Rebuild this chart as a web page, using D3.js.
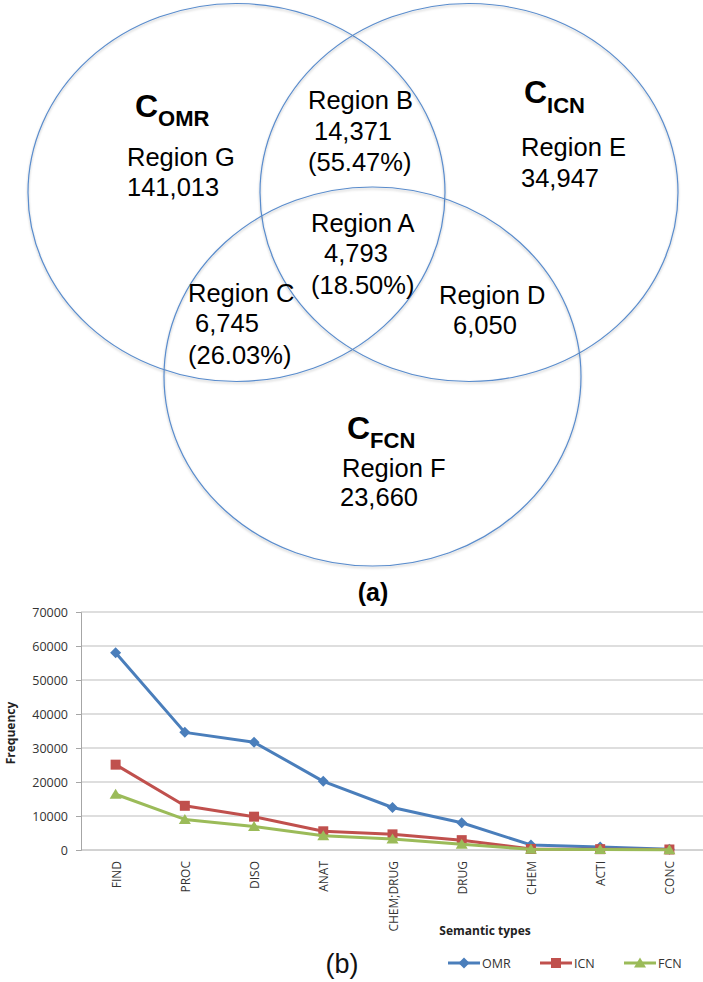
<!DOCTYPE html>
<html>
<head>
<meta charset="utf-8">
<script src="https://cdn.jsdelivr.net/npm/d3@7"></script>
<style>
  html, body { margin: 0; padding: 0; background: #fff; }
  svg { display: block; }
</style>
</head>
<body>
<svg id="chart" width="703" height="982"></svg>
<script>
// ---------- DATA ----------
// Venn diagram (a)
const sets = ["OMR", "ICN", "FCN"];
const regionNames = ["Region A", "Region B", "Region C", "Region D", "Region E", "Region F", "Region G"];
const regionCounts = ["4,793", "14,371", "6,745", "6,050", "34,947", "23,660", "141,013"];
const regionPercents = ["(18.50%)", "(55.47%)", "(26.03%)", null, null, null, null];

// Line chart (b)
const categories = ["FIND", "PROC", "DISO", "ANAT", "CHEM;DRUG", "DRUG", "CHEM", "ACTI", "CONC"];
const seriesNames = ["OMR", "ICN", "FCN"];
const omrValues = [58000, 34600, 31700, 20200, 12500, 8000, 1500, 900, 200];
const icnValues = [25100, 13000, 9800, 5500, 4600, 2900, 300, 250, 150];
const fcnValues = [16400, 9000, 6900, 4200, 3200, 1700, 200, 150, 100];
const yTicks = [0, 10000, 20000, 30000, 40000, 50000, 60000, 70000];

// ---------- LAYOUT ----------
const svg = d3.select("#chart");
const sansA = "'Liberation Sans', Arial, sans-serif";
const sansB = "'Open Sans', 'Noto Sans', sans-serif";

const defs = svg.append("defs");
const f = defs.append("filter").attr("id", "shadow").attr("x", "-10%").attr("y", "-10%").attr("width", "120%").attr("height", "120%");
f.append("feDropShadow").attr("dx", 0).attr("dy", 1.5).attr("stdDeviation", 1.2)
  .attr("flood-color", "#000").attr("flood-opacity", 0.25);

// Venn ellipses (geometry)
const vennGeom = [
  { cx: 236.5, cy: 192.5, rx: 208.5, ry: 189 },
  { cx: 469,   cy: 192.5, rx: 209,   ry: 189 },
  { cx: 372.5, cy: 376.5, rx: 208.5, ry: 189.5 }
];
svg.append("g").selectAll("ellipse").data(vennGeom).join("ellipse")
  .attr("cx", d => d.cx).attr("cy", d => d.cy)
  .attr("rx", d => d.rx).attr("ry", d => d.ry)
  .attr("fill", "none").attr("stroke", "#5a8ccc").attr("stroke-width", 1.2)
  .attr("filter", "url(#shadow)");

// Set labels C_xxx
const setLabelPos = [
  { x: 135, y: 117, sy: 126 },
  { x: 524, y: 103, sy: 113 },
  { x: 347, y: 439, sy: 448 }
];
const vg = svg.append("g").attr("font-family", sansA).attr("fill", "#000");
sets.forEach((s, i) => {
  const p = setLabelPos[i];
  const t = vg.append("text").attr("x", p.x).attr("y", p.y)
    .attr("font-weight", "bold").attr("font-size", 32);
  t.append("tspan").text("C");
  t.append("tspan").attr("font-size", 22).attr("dy", p.sy - p.y).text(s);
});

// Region label layout (x, baselines for name/count/percent)
const regionPos = [
  { x: 311, yn: 232, xc: 324, yc: 262, yp: 294 }, // A
  { x: 308, yn: 109, xc: 314, yc: 140, yp: 171 }, // B
  { x: 188, yn: 302, xc: 195, yc: 332, yp: 364 }, // C
  { x: 439, yn: 304, xc: 453, yc: 334, yp: 0 },   // D
  { x: 521, yn: 156, xc: 521, yc: 187, yp: 0 },   // E
  { x: 342, yn: 477, xc: 340, yc: 506, yp: 0 },   // F
  { x: 127, yn: 166, xc: 127, yc: 196, yp: 0 }    // G
];
regionNames.forEach((name, i) => {
  const p = regionPos[i];
  vg.append("text").attr("x", p.x).attr("y", p.yn).attr("font-size", 25.5).text(name);
  vg.append("text").attr("x", p.xc).attr("y", p.yc).attr("font-size", 25.5).text(regionCounts[i]);
  if (regionPercents[i]) {
    vg.append("text").attr("x", p.x).attr("y", p.yp).attr("font-size", 25.5).text(regionPercents[i]);
  }
});

svg.append("text").attr("x", 373).attr("y", 601).attr("text-anchor", "middle")
  .attr("font-family", sansA).attr("font-weight", "bold").attr("font-size", 25).text("(a)");

// ---------- LINE CHART ----------
const plot = { left: 81, right: 704, top: 612, bottom: 850 };
const x = d3.scalePoint().domain(categories).range([plot.left, plot.right]).padding(0.5);
const y = d3.scaleLinear().domain([0, 70000]).range([plot.bottom, plot.top]);

const cg = svg.append("g");
// gridlines
cg.append("g").selectAll("line").data(yTicks.filter(t => t > 0)).join("line")
  .attr("x1", plot.left).attr("x2", plot.right)
  .attr("y1", d => y(d)).attr("y2", d => y(d))
  .attr("stroke", "#bdbdbd").attr("stroke-width", 1);

// y axis
const yAxis = d3.axisLeft(y).tickValues(yTicks).tickSize(5).tickPadding(8).tickFormat(d3.format("d"));
const yg = cg.append("g").attr("transform", `translate(${plot.left},0)`).call(yAxis);
yg.select(".domain").attr("stroke", "#a6a6a6");
yg.selectAll(".tick line").attr("stroke", "#a6a6a6");
yg.selectAll(".tick text").attr("font-family", sansB).attr("font-size", 12.5).attr("fill", "#333");

// x axis
const xAxis = d3.axisBottom(x).tickSize(0).tickPadding(0);
const xg = cg.append("g").attr("transform", `translate(0,${plot.bottom})`).call(xAxis);
xg.select(".domain").attr("stroke", "#a6a6a6").attr("d", `M${plot.left},0H${plot.right}`);
xg.selectAll(".tick text")
  .attr("font-family", sansB).attr("font-size", 12).attr("fill", "#333")
  .attr("text-anchor", "end").attr("dy", null)
  .attr("dominant-baseline", "central")
  .attr("transform", "translate(0,11) rotate(-90)")
  .attr("y", 0).attr("x", 0);

// axis titles
svg.append("text").attr("transform", "translate(15,733) rotate(-90)")
  .attr("text-anchor", "middle").attr("font-family", sansB).attr("font-weight", "bold")
  .attr("font-size", 12).attr("fill", "#222").text("Frequency");
svg.append("text").attr("x", 485).attr("y", 935).attr("text-anchor", "middle")
  .attr("font-family", sansB).attr("font-weight", "bold")
  .attr("font-size", 12).attr("fill", "#222").text("Semantic types");

// series
const colors = ["#4a7ebb", "#c0504d", "#9bbb59"];
const markerPaths = [
  "M0,-5.5L5.5,0L0,5.5L-5.5,0Z",
  "M-5,-5H5V5H-5Z",
  "M0,-5.5L6,4.5H-6Z"
];
const allSeries = [omrValues, icnValues, fcnValues];
const line = d3.line().x((d, i) => x(categories[i])).y(d => y(d));
allSeries.forEach((vals, s) => {
  const g = cg.append("g");
  g.append("path").datum(vals).attr("d", line)
    .attr("fill", "none").attr("stroke", colors[s]).attr("stroke-width", 3).attr("stroke-linejoin", "round");
  g.selectAll("path.m").data(vals).join("path").attr("class", "m")
    .attr("d", markerPaths[s])
    .attr("transform", (d, i) => `translate(${x(categories[i])},${y(d)})`)
    .attr("fill", colors[s]);
});

// legend
const legendX = [448, 540, 624];
const lg = svg.append("g");
seriesNames.forEach((n, s) => {
  const g = lg.append("g").attr("transform", `translate(${legendX[s]},963)`);
  g.append("line").attr("x1", 0).attr("x2", 32).attr("stroke", colors[s]).attr("stroke-width", 3);
  g.append("path").attr("d", markerPaths[s]).attr("transform", "translate(16,0)").attr("fill", colors[s]);
  g.append("text").attr("x", 34).attr("y", 0).attr("dominant-baseline", "central")
    .attr("font-family", sansB).attr("font-size", 12.5).attr("fill", "#333").text(n);
});

svg.append("text").attr("x", 342).attr("y", 973).attr("text-anchor", "middle")
  .attr("font-family", sansA).attr("font-size", 27).attr("fill", "#111").text("(b)");
</script>
</body>
</html>
